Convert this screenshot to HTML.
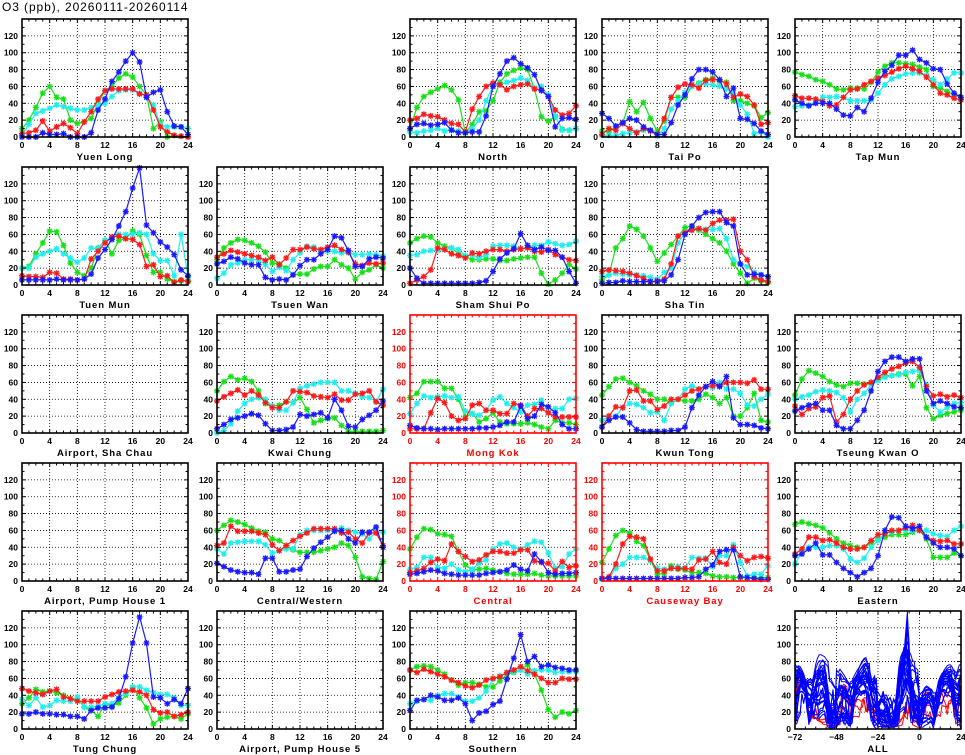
<!DOCTYPE html>
<html><head><meta charset="utf-8"><style>
body{margin:0;background:#fff;width:965px;height:755px;overflow:hidden}
svg{display:block}
text{font-family:"Liberation Sans",sans-serif;font-weight:bold}
</style></head><body>
<svg id="s" width="965" height="755" xmlns="http://www.w3.org/2000/svg">
<text x="2" y="11" font-size="12" letter-spacing="0.9" style="font-weight:normal">O3 (ppb), 20260111-20260114</text>
</svg>
<script>
const D={
"Yuen Long":{B:[0,0,0,5,3,3,4,0,0,0,5,32,45,66,77,90,100,89,47,53,56,30,13,12,3],R:[4,5,8,19,7,12,16,11,4,18,30,45,55,57,57,57,57,51,50,32,12,6,2,1,0],G:[10,20,35,52,60,47,45,20,16,18,22,40,55,60,70,75,71,60,50,10,18,0,2,1,0],C:[2,15,28,31,34,38,36,34,32,32,35,38,40,48,55,56,56,52,48,38,15,12,12,12,10]},
"North":{B:[10,15,16,14,15,17,8,5,5,6,6,25,60,75,90,94,87,82,74,55,48,12,22,23,21],R:[20,22,27,25,24,20,16,15,6,33,48,60,64,62,56,60,62,63,57,56,48,32,26,28,37],G:[10,35,48,53,57,61,56,44,5,15,30,31,43,65,75,79,82,80,57,24,19,24,9,8,10],C:[6,5,7,8,10,7,9,7,5,10,20,43,60,62,65,67,70,67,58,60,50,25,8,8,10]},
"Tai Po":{B:[28,22,13,17,22,20,12,8,3,3,17,38,50,69,80,80,77,68,48,58,22,21,16,7,3],R:[3,10,8,16,10,5,10,7,3,22,47,59,63,62,58,67,68,68,63,47,51,48,38,15,17],G:[7,6,13,17,42,30,41,22,7,19,47,47,47,60,64,68,70,66,65,43,43,40,37,23,29],C:[2,2,2,4,5,6,8,8,1,10,33,43,53,60,63,63,62,60,57,52,38,27,4,6,0]},
"Tap Mun":{B:[44,40,37,40,40,40,33,26,25,35,30,46,65,78,85,97,97,103,92,88,81,80,63,52,47],R:[49,46,46,45,42,37,38,47,56,57,62,66,70,73,77,81,84,81,78,71,62,52,50,46,44],G:[77,74,72,68,66,62,57,56,58,58,57,65,77,84,88,88,87,86,83,80,60,58,54,50,47],C:[36,37,38,41,47,47,48,47,43,43,43,44,52,62,69,72,75,76,76,73,68,62,69,76,76]},
"Tuen Mun":{B:[6,6,6,6,6,7,6,6,6,7,13,32,42,54,70,87,115,139,71,62,51,45,36,18,11],R:[11,10,10,9,15,14,7,7,6,7,31,40,50,57,58,55,54,48,22,24,10,11,3,6,4],G:[20,22,37,50,64,63,47,26,15,11,20,44,53,37,53,55,64,60,35,15,15,7,4,5,5],C:[20,20,33,37,40,43,37,32,27,32,44,43,53,56,60,60,60,62,60,37,29,29,11,60,10]},
"Tsuen Wan":{B:[25,28,33,31,26,24,24,9,6,7,6,12,23,30,30,37,42,58,56,41,22,22,31,33,32],R:[33,37,41,39,37,35,33,29,33,24,32,42,42,45,43,42,45,47,42,39,25,23,26,25,26],G:[30,44,50,54,53,50,46,39,26,25,20,12,13,13,19,22,22,30,24,20,7,15,18,24,20],C:[8,14,24,26,30,30,30,24,16,21,17,30,38,46,45,41,40,40,38,38,36,36,37,36,34]},
"Sham Shui Po":{B:[20,8,2,2,2,2,2,2,2,2,3,5,16,31,38,43,61,47,42,45,41,41,33,16,2],R:[2,6,10,18,44,42,37,35,32,38,37,40,42,42,40,42,43,44,40,39,42,36,33,30,29],G:[50,55,58,57,50,46,44,37,34,30,30,31,31,29,29,31,32,33,33,14,1,6,14,24,19],C:[35,36,40,41,41,42,44,42,35,36,32,36,46,47,47,46,43,44,47,47,51,49,47,48,52]},
"Sha Tin":{B:[2,3,3,5,4,4,4,4,4,5,12,30,60,70,80,86,87,87,74,70,25,12,13,12,10],R:[16,18,17,16,14,11,8,4,5,7,25,58,62,65,67,65,73,77,77,78,40,30,10,6,4],G:[6,12,44,55,70,66,58,44,28,38,48,58,68,70,65,60,55,50,40,25,14,2,8,5,3],C:[10,12,14,13,12,12,11,9,7,15,20,50,62,65,66,66,66,67,55,30,25,22,15,12,10]},
"Kwai Chung":{B:[5,10,16,18,20,23,21,11,3,3,4,7,22,20,22,24,18,40,27,8,7,16,21,27,38],R:[38,43,47,51,45,50,45,36,30,30,37,50,49,48,44,43,42,46,39,39,46,47,50,37,33],G:[50,61,67,63,65,61,50,35,32,33,37,36,42,28,12,15,17,18,9,2,2,2,2,2,3],C:[0,3,11,26,35,40,42,40,32,27,27,36,53,56,58,60,60,60,50,50,47,43,42,37,52]},
"Mong Kok":{B:[9,6,5,5,4,5,5,5,5,5,6,6,7,9,13,13,32,17,20,34,31,24,10,5,5],R:[5,5,5,24,41,36,20,15,17,33,35,27,27,23,23,35,33,20,29,29,24,19,19,19,19],G:[42,47,61,61,61,53,53,40,19,23,13,17,24,13,11,11,11,12,10,7,5,15,12,12,10],C:[23,35,44,42,43,44,42,43,26,23,21,27,39,43,35,30,25,33,34,39,24,29,29,40,41]},
"Kwun Tong":{B:[7,15,19,19,12,4,2,2,2,2,3,3,7,30,45,55,61,55,67,18,10,10,9,6,5],R:[7,20,31,30,50,51,38,38,28,32,40,40,45,50,52,55,56,56,60,60,60,59,63,52,52],G:[45,55,64,65,60,56,50,46,40,40,36,40,38,38,40,46,42,35,42,20,20,30,47,15,13],C:[15,20,20,30,35,34,30,24,25,15,35,40,52,56,52,55,54,60,52,52,47,33,32,40,46]},
"Tseung Kwan O":{B:[26,30,33,35,27,27,9,5,5,15,27,50,73,85,90,90,85,88,88,50,35,38,35,31,30],R:[32,22,29,31,42,44,13,22,40,50,57,60,66,72,76,79,83,85,78,55,44,46,43,45,42],G:[45,64,74,71,67,61,57,55,59,59,58,60,65,68,68,70,70,56,67,30,17,21,23,25,27],C:[40,43,45,49,51,50,48,42,25,40,47,57,62,66,68,69,72,73,74,57,33,25,30,35,36]},
"Central/Western":{B:[21,17,13,11,10,10,8,27,27,11,11,13,14,29,39,46,52,59,60,50,45,58,58,64,40],R:[42,45,65,59,59,59,57,55,43,36,42,48,53,57,62,62,62,62,57,58,50,45,57,57,42],G:[60,66,72,70,67,63,59,58,50,48,42,37,34,34,34,36,38,40,45,42,28,5,3,2,23],C:[38,32,45,46,47,47,47,43,33,36,38,38,55,60,60,60,60,60,63,60,58,56,50,58,58]},
"Central":{B:[8,9,11,13,12,9,8,7,7,7,7,9,10,11,13,19,14,12,32,23,10,8,9,9,10],R:[10,12,15,22,26,24,44,35,29,23,25,31,35,35,33,33,37,37,24,22,21,12,23,16,18],G:[38,52,62,61,56,55,53,35,19,13,14,15,13,11,9,8,8,8,9,7,6,6,6,6,6],C:[14,16,28,28,16,15,20,13,11,14,21,25,38,44,45,40,38,43,47,46,33,15,17,32,38]},
"Causeway Bay":{B:[3,3,3,3,3,3,3,3,3,3,3,3,4,4,5,14,19,35,37,37,5,4,3,2,2],R:[3,5,20,44,53,52,50,26,12,12,15,15,15,14,25,26,35,22,20,40,30,24,28,29,27],G:[22,38,54,60,57,47,42,25,8,9,18,14,13,10,10,9,6,5,5,4,4,4,4,4,4],C:[2,3,15,20,28,28,28,24,15,14,15,17,15,28,27,27,17,30,30,43,22,6,8,8,18]},
"Eastern":{B:[30,32,38,45,31,31,22,15,10,5,10,15,30,60,76,75,65,62,65,52,45,40,40,38,30],R:[32,38,52,52,48,49,45,40,38,38,40,48,55,56,60,60,63,66,60,52,48,47,48,44,44],G:[67,70,68,66,63,57,50,45,42,40,40,45,50,52,55,55,55,58,60,50,28,28,28,33,30],C:[20,35,40,40,40,42,42,38,26,22,27,40,48,56,58,60,60,60,60,60,56,54,53,60,65]},
"Tung Chung":{B:[18,18,20,18,18,17,17,15,15,12,22,25,25,26,36,62,102,133,102,38,37,30,35,30,48],R:[48,45,43,41,45,47,38,36,33,33,33,33,38,41,44,45,46,44,40,23,19,20,15,17,20],G:[30,37,47,44,45,43,40,36,36,26,22,15,30,27,31,40,49,37,25,6,12,14,15,12,18],C:[35,28,37,26,28,34,33,33,38,26,26,27,30,30,37,42,50,50,46,43,41,41,37,28,28]},
"Southern":{B:[22,34,35,40,38,34,34,37,30,10,19,21,29,33,59,84,112,80,86,74,76,73,72,70,70],R:[70,67,71,68,65,62,58,55,51,49,52,58,60,62,67,70,74,69,65,60,55,55,60,59,59],G:[70,74,75,74,70,65,58,52,55,55,53,50,50,57,65,67,70,76,65,46,23,14,20,18,22],C:[30,33,35,34,40,42,42,38,33,33,37,45,59,63,67,68,70,65,69,70,70,67,68,68,68]}
};
const layout=[
["Yuen Long",0,0],["North",0,2],["Tai Po",0,3],["Tap Mun",0,4],
["Tuen Mun",1,0],["Tsuen Wan",1,1],["Sham Shui Po",1,2],["Sha Tin",1,3],
["Airport, Sha Chau",2,0],["Kwai Chung",2,1],["Mong Kok",2,2],["Kwun Tong",2,3],["Tseung Kwan O",2,4],
["Airport, Pump House 1",3,0],["Central/Western",3,1],["Central",3,2],["Causeway Bay",3,3],["Eastern",3,4],
["Tung Chung",4,0],["Airport, Pump House 5",4,1],["Southern",4,2],["ALL",4,4]];
const redSt={"Mong Kok":1,"Central":1,"Causeway Bay":1};
const COL={G:"#18e018",C:"#20eeee",R:"#ff1a1a",B:"#1a1aff"};
const LEFT=[22,217,410,602,795];
let h="";
const W=166,H=118;
function star(x,y,c){const a=3;return `<path d="M${x-a} ${y}H${x+a}M${x} ${y-a}V${y+a}M${x-a*.75} ${y-a*.75}L${x+a*.75} ${y+a*.75}M${x-a*.75} ${y+a*.75}L${x+a*.75} ${y-a*.75}" stroke="${c}" stroke-width="1.3"/>`;}
for(const [name,r,c] of layout){
 const x0=LEFT[c], yb=137+148*r, y0=yb-H;
 const isAll=name==="ALL";
 const fc=redSt[name]?"#ff0000":"#000";
 const xmin=isAll?-72:0, xmax=24;
 const X=v=>x0+(v-xmin)/(xmax-xmin)*W, Y=v=>yb-v*H/140;
 const xg=isAll?[-48,-24,0]:[4,8,12,16,20];
 for(const g of xg)h+=`<line x1="${X(g)}" y1="${y0}" x2="${X(g)}" y2="${yb}" stroke="#000" stroke-width="0.8" stroke-dasharray="1,2"/>`;
 for(let v=20;v<=120;v+=20)h+=`<line x1="${x0}" y1="${Y(v)}" x2="${x0+W}" y2="${Y(v)}" stroke="#000" stroke-width="0.8" stroke-dasharray="1,2"/>`;
 if(isAll){
  const ord=["G","R","B","C"];
  const names=Object.keys(D);
  const draw=(n,col,f,o)=>{let pts=[];ord.forEach((k,i)=>{D[n][k].forEach((v,j)=>{if(j<24||i==3)pts.push([X(-72+24*i+j),Y(Math.min(140,v*f+o))]);});});h+=`<polyline points="${pts.map(p=>p[0].toFixed(1)+","+p[1].toFixed(1)).join(" ")}" fill="none" stroke="${col}" stroke-width="1"/>`;};
  names.filter(n=>redSt[n]).forEach(n=>draw(n,"#ff0000",1,0));
  names.filter(n=>!redSt[n]).forEach(n=>{draw(n,"#0000ff",1,0);draw(n,"#0000ff",0.85,6);});
 } else if(D[name]){
  for(const k of ["G","C","R","B"]){
   const d=D[name][k];
   h+=`<polyline points="${d.map((v,i)=>X(i).toFixed(1)+","+Y(v).toFixed(1)).join(" ")}" fill="none" stroke="${COL[k]}" stroke-width="1.2"/>`;
   d.forEach((v,i)=>h+=star(X(i),Y(v),COL[k]));
  }
 }
 h+=`<rect x="${x0}" y="${y0}" width="${W}" height="${H}" fill="none" stroke="${fc}" stroke-width="1.6"/>`;
 const step=isAll?6:1;
 for(let v=xmin;v<=xmax;v+=step){const L=(v%(isAll?24:4)==0)?4:2.5;h+=`<line x1="${X(v)}" y1="${yb}" x2="${X(v)}" y2="${yb-L}" stroke="${fc}"/><line x1="${X(v)}" y1="${y0}" x2="${X(v)}" y2="${y0+L}" stroke="${fc}"/>`;}
 for(let v=0;v<=140;v+=10){const L=v%20==0?4:2.5;h+=`<line x1="${x0}" y1="${Y(v)}" x2="${x0+L}" y2="${Y(v)}" stroke="${fc}"/><line x1="${x0+W}" y1="${Y(v)}" x2="${x0+W-L}" y2="${Y(v)}" stroke="${fc}"/>`;}
 for(let v=0;v<=120;v+=20)h+=`<text x="${x0-4}" y="${Y(v)+3}" font-size="8.5" text-anchor="end" fill="${fc}">${v}</text>`;
 const xl=isAll?[-72,-48,-24,0,24]:[0,4,8,12,16,20,24];
 for(const v of xl)h+=`<text x="${X(v)}" y="${yb+11}" font-size="8.5" text-anchor="middle" fill="${fc}">${v<0?"\u2212"+(-v):v}</text>`;
 h+=`<text x="${x0+W/2}" y="${yb+23}" font-size="9.5" letter-spacing="0.9" text-anchor="middle" fill="${fc}">${name}</text>`;
}
document.getElementById("s").insertAdjacentHTML("beforeend",h);
</script>
</body></html>
